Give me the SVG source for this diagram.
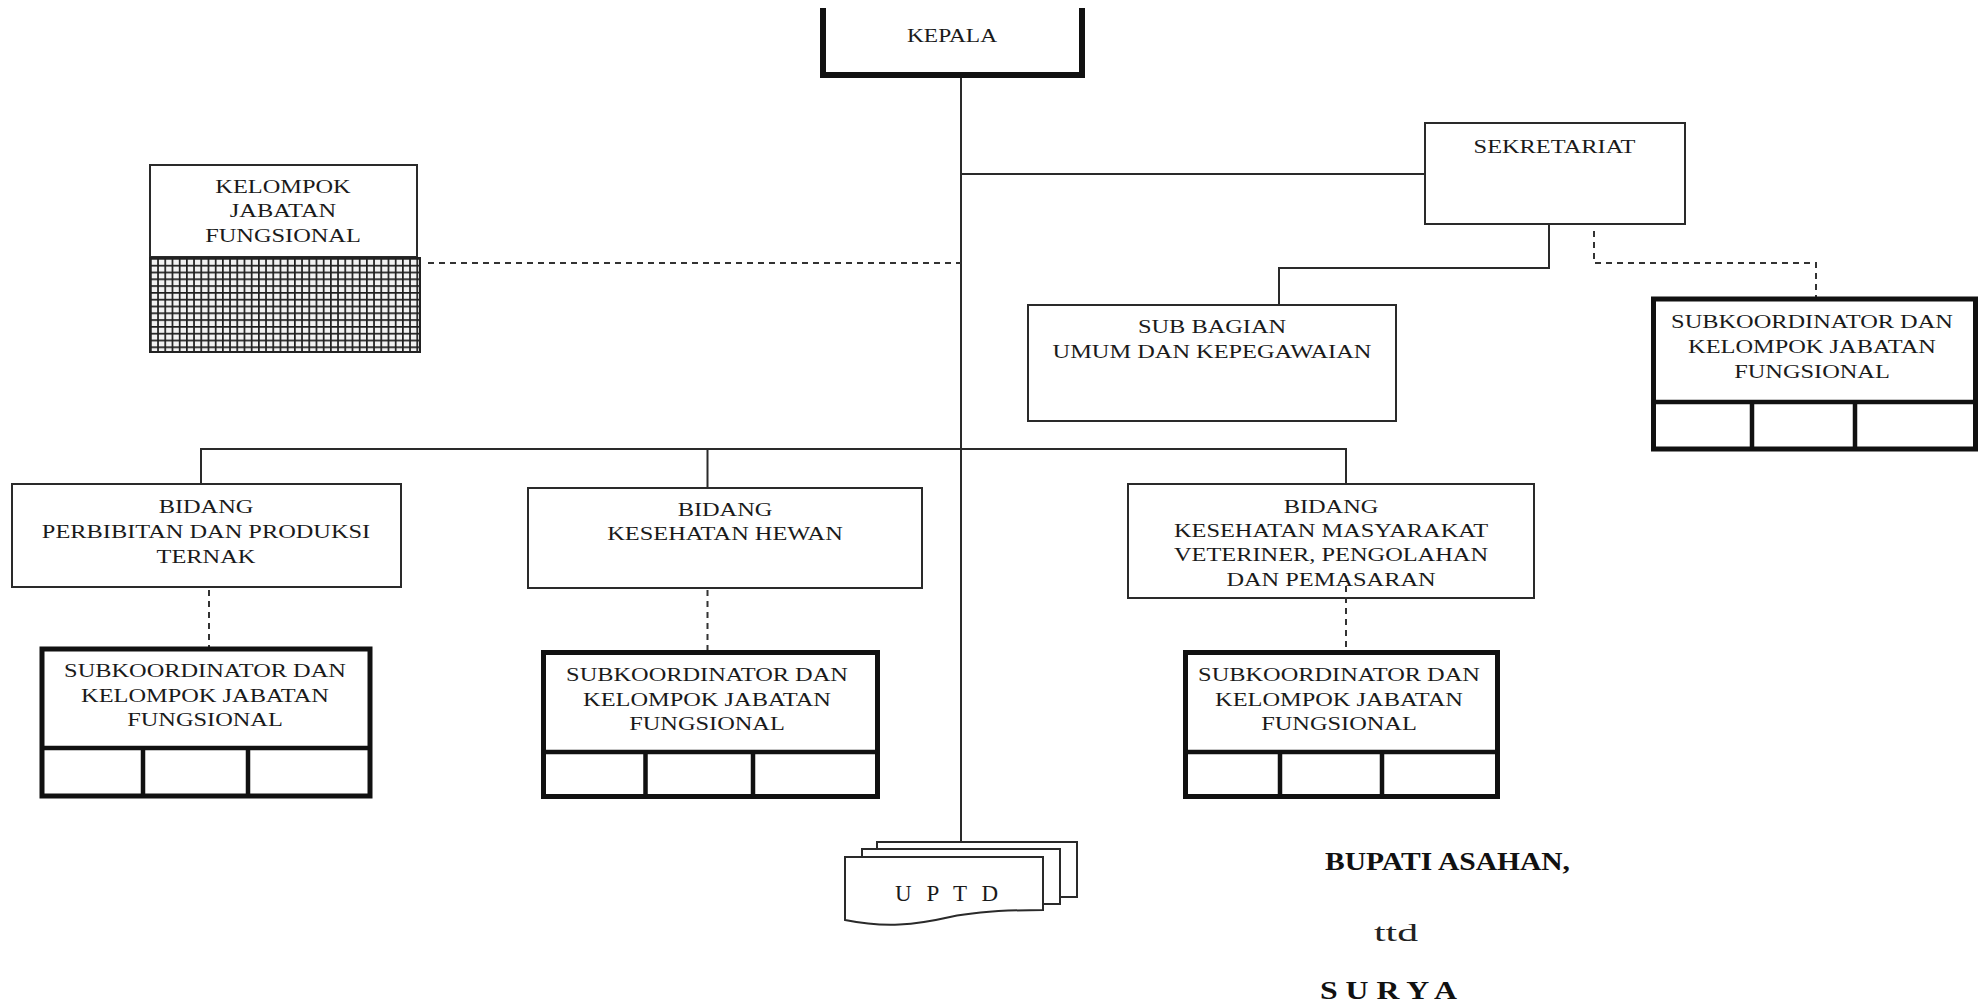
<svg xmlns="http://www.w3.org/2000/svg" width="1986" height="1006" viewBox="0 0 1986 1006">
<style>
.box{fill:#fff;stroke:#2a2a2a;stroke-width:2}
.thick{fill:#fff;stroke:#111;stroke-width:5}
.div{fill:none;stroke:#111;stroke-width:4.5}
.ln{fill:none;stroke:#2a2a2a;stroke-width:2}
.dash{fill:none;stroke:#333;stroke-width:2;stroke-dasharray:6 5}
.t{font-family:"Liberation Serif","Times New Roman",serif;font-size:19.5px;fill:#1a1a1a;text-anchor:middle}
.b{font-family:"Liberation Serif","Times New Roman",serif;font-size:25px;font-weight:bold;fill:#111}
.s{font-family:"Liberation Serif","Times New Roman",serif;font-size:26px;fill:#222}
</style>
<defs>
<pattern id="grid" x="150" y="258" width="7.2" height="6.8" patternUnits="userSpaceOnUse">
<rect width="7.2" height="6.8" fill="#f2f2f2"/>
<path d="M0,0V6.8M0,0H7.2" stroke="#1e1e1e" stroke-width="3.4" fill="none"/>
</pattern>
</defs>
<rect width="1986" height="1006" fill="#fff"/>

<g id="connectors">
<path class="ln" d="M961,78V842"/>
<path class="ln" d="M961,174H1424"/>
<path class="ln" d="M1549,224V268H1279V305"/>
<path class="dash" d="M1594,231V263H1816V297"/>
<path class="dash" d="M428,263H961"/>
<path class="ln" d="M201,484V449H1346V484"/>
<path class="ln" d="M707.5,449V488"/>
<path class="dash" d="M209,590V647"/>
<path class="dash" d="M707.5,590V650"/>
<path class="dash" d="M1346,586V650"/>
</g>

<g id="kepala">
<path d="M823,8V75H1082V8" fill="#fff" stroke="#111" stroke-width="6"/>
<text class="t" transform="translate(952,42) scale(1.2,1)">KEPALA</text>
</g>

<g id="kelompok-jf">
<rect class="box" x="150" y="165" width="267" height="92"/>
<rect x="150" y="258" width="270" height="94" fill="url(#grid)" stroke="#222" stroke-width="2"/>
<text class="t" transform="translate(283,0) scale(1.25,1)"><tspan x="0" y="193">KELOMPOK</tspan><tspan x="0" y="217">JABATAN</tspan><tspan x="0" y="242">FUNGSIONAL</tspan></text>
</g>

<g id="sekretariat">
<rect class="box" x="1425" y="123" width="260" height="101"/>
<text class="t" transform="translate(1554.5,153) scale(1.25,1)">SEKRETARIAT</text>
</g>

<g id="subbag-umum">
<rect class="box" x="1028" y="305" width="368" height="116"/>
<text class="t" transform="translate(1212,0) scale(1.25,1)"><tspan x="0" y="333">SUB BAGIAN</tspan><tspan x="0" y="358">UMUM DAN KEPEGAWAIAN</tspan></text>
</g>

<g id="subkoord-sekretariat">
<rect class="thick" x="1653.5" y="299" width="322" height="150"/>
<path class="div" d="M1653.5,402H1975.5M1752,402V449M1855,402V449"/>
<text class="t" transform="translate(1812,0) scale(1.25,1)"><tspan x="0" y="328">SUBKOORDINATOR DAN</tspan><tspan x="0" y="353">KELOMPOK JABATAN</tspan><tspan x="0" y="378">FUNGSIONAL</tspan></text>
</g>

<g id="bidang-perbibitan">
<rect class="box" x="12" y="484" width="389" height="103"/>
<text class="t" transform="translate(206,0) scale(1.25,1)"><tspan x="0" y="513">BIDANG</tspan><tspan x="0" y="538">PERBIBITAN DAN PRODUKSI</tspan><tspan x="0" y="563">TERNAK</tspan></text>
</g>

<g id="bidang-keswan">
<rect class="box" x="528" y="488" width="394" height="100"/>
<text class="t" transform="translate(725,0) scale(1.25,1)"><tspan x="0" y="516">BIDANG</tspan><tspan x="0" y="540">KESEHATAN HEWAN</tspan></text>
</g>

<g id="bidang-kesmavet">
<rect class="box" x="1128" y="484" width="406" height="114"/>
<text class="t" transform="translate(1331,0) scale(1.25,1)"><tspan x="0" y="513">BIDANG</tspan><tspan x="0" y="537">KESEHATAN MASYARAKAT</tspan><tspan x="0" y="561">VETERINER, PENGOLAHAN</tspan><tspan x="0" y="586">DAN PEMASARAN</tspan></text>
<path class="dash" d="M1346,586V598"/>
</g>

<g id="subkoord-1">
<rect class="thick" x="42" y="649" width="328" height="147"/>
<path class="div" d="M42,748H370M143,748V796M248,748V796"/>
<text class="t" transform="translate(205,0) scale(1.25,1)"><tspan x="0" y="677">SUBKOORDINATOR DAN</tspan><tspan x="0" y="702">KELOMPOK JABATAN</tspan><tspan x="0" y="726">FUNGSIONAL</tspan></text>
</g>

<g id="subkoord-2">
<rect class="thick" x="543.5" y="652.5" width="334" height="144"/>
<path class="div" d="M543.5,752H877.5M645.5,752V796.5M753,752V796.5"/>
<text class="t" transform="translate(707,0) scale(1.25,1)"><tspan x="0" y="681">SUBKOORDINATOR DAN</tspan><tspan x="0" y="706">KELOMPOK JABATAN</tspan><tspan x="0" y="730">FUNGSIONAL</tspan></text>
</g>

<g id="subkoord-3">
<rect class="thick" x="1185.5" y="652.5" width="312" height="144"/>
<path class="div" d="M1185.5,752H1497.5M1280,752V796.5M1382,752V796.5"/>
<text class="t" transform="translate(1339,0) scale(1.25,1)"><tspan x="0" y="681">SUBKOORDINATOR DAN</tspan><tspan x="0" y="706">KELOMPOK JABATAN</tspan><tspan x="0" y="730">FUNGSIONAL</tspan></text>
</g>

<g id="uptd">
<path class="ln" d="M877,849V842H1077V897H1060"/>
<path class="ln" d="M862,857V849H1060V904H1043"/>
<path d="M845,857H1043V910C1000,910 975,912 950,917C915,925 885,928 845,920Z" fill="#fff" stroke="#2a2a2a" stroke-width="2"/>
<text class="t" x="895" y="901" textLength="103" lengthAdjust="spacing" style="text-anchor:start;font-size:23px">U P T D</text>
</g>

<g id="signature">
<text class="b" x="1325" y="870" textLength="245" lengthAdjust="spacingAndGlyphs">BUPATI ASAHAN,</text>
<text class="s" x="1374" y="941" textLength="44" lengthAdjust="spacingAndGlyphs">ttd</text>
<text class="b" x="1320" y="999" textLength="137" lengthAdjust="spacingAndGlyphs">S U R Y A</text>
</g>
</svg>
